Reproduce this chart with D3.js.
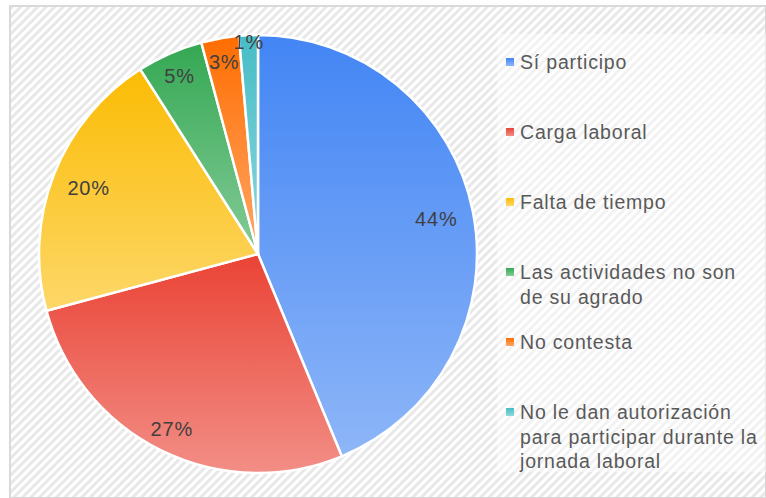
<!DOCTYPE html>
<html>
<head>
<meta charset="utf-8">
<script src="https://cdn.jsdelivr.net/npm/d3@7"></script>
<style>
  body { margin: 0; background: #fff; }
  svg { display: block; font-family: "Liberation Sans", Arial, sans-serif; }
</style>
</head>
<body>
<svg id="chart"></svg>
<script>
// answers (counts)
var categories = [
  "Sí participo",
  "Carga laboral",
  "Falta de tiempo",
  "Las actividades no son de su agrado",
  "No contesta",
  "No le dan autorización para participar durante la jornada laboral"
];
var counts = [63, 39, 29, 7, 4, 2];

// legend text broken the way the picture shows it
var legendLines = [
  ["Sí participo"],
  ["Carga laboral"],
  ["Falta de tiempo"],
  ["Las actividades no son", "de su agrado"],
  ["No contesta"],
  ["No le dan autorización", "para participar durante la", "jornada laboral"]
];

var colors = ["#4285f4", "#ea4335", "#fbbc04", "#34a853", "#ff6d01", "#46bdc6"];

var width = 766;
var height = 498;
var cx = 258, cy = 254, radius = 219;

var svg = d3.select("#chart")
  .attr("width", width)
  .attr("height", height);

var defs = svg.append("defs");

// diagonal hatch background
var hatch = defs.append("pattern")
  .attr("id", "hatch")
  .attr("patternUnits", "userSpaceOnUse")
  .attr("width", 6)
  .attr("height", 6)
  .attr("patternTransform", "rotate(-45)");
hatch.append("rect").attr("width", 6).attr("height", 6).attr("fill", "#ffffff");
hatch.append("rect").attr("width", 6).attr("height", 3).attr("fill", "#e8e8e8");

// one gradient per slice, darker at top
colors.forEach((c, i) => {
  var g = defs.append("linearGradient")
    .attr("id", "grad" + i)
    .attr("x1", 0).attr("y1", 0)
    .attr("x2", 0).attr("y2", 1);
  g.append("stop").attr("offset", "0%").attr("stop-color", c);
  g.append("stop").attr("offset", "100%").attr("stop-color", d3.interpolateRgb(c, "#ffffff")(0.4));
});

// frame
svg.append("rect")
  .attr("x", 10).attr("y", 6)
  .attr("width", width - 10).attr("height", height - 6)
  .attr("fill", "url(#hatch)")
  .attr("stroke", "#d9d9d9")
  .attr("stroke-width", 2);

// pie
var pie = d3.pie().sort(null).value(d => d);
var arcs = pie(counts);
var total = d3.sum(counts);

var arc = d3.arc().innerRadius(0).outerRadius(radius);

var g = svg.append("g").attr("transform", "translate(" + cx + "," + cy + ")");

g.selectAll(".slice")
  .data(arcs)
  .join("path")
  .attr("class", "slice")
  .attr("d", arc)
  .attr("fill", (d, i) => "url(#grad" + i + ")")
  .attr("stroke", "#ffffff")
  .attr("stroke-width", 2.5)
  .attr("stroke-linejoin", "round");

// labels: small slices get pushed out towards the rim
function labelRadius(d) {
  var a = d.endAngle - d.startAngle;
  if (a < 0.1) return radius * 0.97;
  if (a < 0.5) return radius * 0.89;
  if (a < 1.5) return radius * 0.83;
  if (a < 2) return radius * 0.89;
  return radius * 0.83;
}

g.selectAll(".lbl")
  .data(arcs)
  .join("text")
  .attr("class", "lbl")
  .attr("x", d => Math.sin((d.startAngle + d.endAngle) / 2) * labelRadius(d))
  .attr("y", d => -Math.cos((d.startAngle + d.endAngle) / 2) * labelRadius(d))
  .attr("text-anchor", "middle")
  .attr("dominant-baseline", "central")
  .attr("font-size", 20)
  .attr("letter-spacing", 0.8)
  .attr("fill", "#404040")
  .text(d => Math.round(d.value / total * 100) + "%");

// legend
svg.append("rect")
  .attr("x", 497).attr("y", 34)
  .attr("width", 269).attr("height", 438)
  .attr("fill", "#ffffff")
  .attr("opacity", 0.45);

var legendY = d3.scalePoint()
  .domain(categories)
  .range([62, 412]);

var items = svg.selectAll(".legend")
  .data(categories)
  .join("g")
  .attr("class", "legend")
  .attr("transform", d => "translate(506," + legendY(d) + ")");

items.append("rect")
  .attr("x", 0).attr("y", -4)
  .attr("width", 8).attr("height", 8)
  .attr("fill", (d, i) => "url(#grad" + i + ")");

items.append("text")
  .attr("x", 14)
  .attr("y", 7)
  .attr("font-size", 19.5)
  .attr("letter-spacing", 0.8)
  .attr("fill", "#595959")
  .selectAll("tspan")
  .data((d, i) => legendLines[i])
  .join("tspan")
  .attr("x", 14)
  .attr("dy", (d, j) => j === 0 ? 0 : 24.5)
  .text(d => d);
</script>
</body>
</html>
